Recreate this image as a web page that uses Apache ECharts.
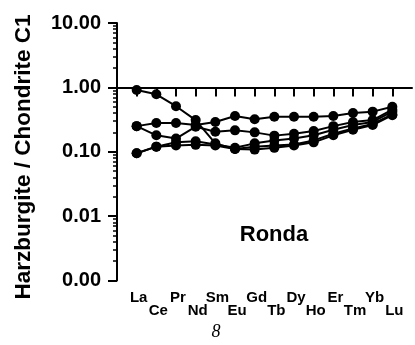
<!DOCTYPE html>
<html>
<head>
<meta charset="utf-8">
<script src="https://cdn.jsdelivr.net/npm/echarts@6/dist/echarts.min.js"></script>
<style>
 html, body { margin: 0; padding: 0; background: #fff; }
 #chart { width: 415px; height: 345px; }
</style>
</head>
<body>
<div id="chart"></div>
<script>
// REE elements, chondrite-normalised harzburgite samples (Ronda)
const elements = ['La', 'Ce', 'Pr', 'Nd', 'Sm', 'Eu', 'Gd', 'Tb', 'Dy', 'Ho', 'Er', 'Tm', 'Yb', 'Lu'];

const sample1 = [0.91, 0.78, 0.51, 0.31, 0.135, 0.11, 0.108, 0.115, 0.125, 0.14, 0.18, 0.22, 0.26, 0.37];
const sample2 = [0.25, 0.28, 0.28, 0.26, 0.29, 0.36, 0.32, 0.35, 0.35, 0.35, 0.36, 0.40, 0.42, 0.50];
const sample3 = [0.25, 0.18, 0.16, 0.245, 0.205, 0.215, 0.20, 0.178, 0.19, 0.21, 0.25, 0.29, 0.31, 0.45];
const sample4 = [0.095, 0.12, 0.125, 0.128, 0.125, 0.11, 0.12, 0.125, 0.13, 0.15, 0.19, 0.23, 0.27, 0.38];
const sample5 = [0.095, 0.12, 0.14, 0.145, 0.13, 0.115, 0.135, 0.15, 0.16, 0.18, 0.22, 0.26, 0.29, 0.42];

const samples = [sample1, sample2, sample3, sample4, sample5];

// minor ticks of the log axis (2..9 in each decade), as exponents
const yMinorExp = [];
for (let e = -3; e < 1; e++) {
 for (let k = 2; k <= 9; k++) yMinorExp.push(e + Math.log10(k));
}

// padded so that La sits one step in from the y axis
const xData = [''].concat(elements, [' ']);

const chart = echarts.init(document.getElementById('chart'), null, { renderer: 'canvas' });

const font = 'Liberation Sans, Arial, sans-serif';

chart.setOption({
 animation: false,
 backgroundColor: '#fff',
 grid: { left: 117, top: 23, bottom: 64.5, right: -8, containLabel: false },
 xAxis: {
  type: 'category',
  data: xData,
  boundaryGap: false,
  axisLine: { lineStyle: { color: '#000', width: 2 } },
  axisTick: {
   length: 9,
   interval: (i) => i > 0 && i < xData.length - 1,
   lineStyle: { color: '#000', width: 2 },
  },
  axisLabel: {
   interval: 0,
   margin: 10,
   formatter: (v, i) => {
    if (!v.trim()) return '';
    return (i % 2 === 1 ? '{hi|' : '{lo|') + v + '}';
   },
   rich: {
    hi: { color: '#000', fontFamily: font, fontWeight: 'bold', fontSize: 15, padding: [0, 0, 0, 4] },
    lo: { color: '#000', fontFamily: font, fontWeight: 'bold', fontSize: 15, padding: [13, 0, 0, 4] },
   },
  },
  splitLine: { show: false },
 },
 yAxis: [
  {
   type: 'log',
   logBase: 10,
   min: 0.001,
   max: 10,
   splitNumber: 4,
   axisLine: { show: true, lineStyle: { color: '#000', width: 2 } },
   axisTick: { show: true, length: 9, lineStyle: { color: '#000', width: 2 } },
   axisLabel: {
    color: '#000',
    fontFamily: font,
    fontWeight: 'bold',
    fontSize: 20,
    margin: 16,
    formatter: (v) => v.toFixed(2),
   },
   splitLine: { show: false },
  },
  {
   // helper axis in exponent space, only draws the minor ticks
   type: 'value',
   min: -3,
   max: 1,
   position: 'left',
   axisLine: { show: false },
   axisTick: { show: true, length: 4, customValues: yMinorExp, lineStyle: { color: '#000', width: 1.5 } },
   axisLabel: { show: false },
   splitLine: { show: false },
  },
 ],
 graphic: [
  {
   type: 'text',
   x: 24, y: 157,
   rotation: Math.PI / 2,
   style: {
    text: 'Harzburgite / Chondrite C1',
    fill: '#000',
    font: 'bold 22.5px ' + font,
    align: 'center',
    verticalAlign: 'middle',
   },
  },
  {
   type: 'text',
   x: 274, y: 235,
   style: {
    text: 'Ronda',
    fill: '#000',
    font: 'bold 22px ' + font,
    align: 'center',
    verticalAlign: 'middle',
   },
  },
  {
   type: 'text',
   x: 216, y: 332,
   style: {
    text: '8',
    fill: '#000',
    font: 'italic 18px Liberation Serif, serif',
    align: 'center',
    verticalAlign: 'middle',
   },
  },
  {
   type: 'text',
   x: 214, y: 2,
   style: {
    text: '8',
    fill: '#000',
    font: 'italic 18px Liberation Serif, serif',
    align: 'center',
    verticalAlign: 'bottom',
   },
  },
 ],
 series: samples.map((vals, s) => ({
  name: 'Sample ' + (s + 1),
  type: 'line',
  data: elements.map((el, i) => [el, vals[i]]),
  symbol: 'circle',
  symbolSize: 10,
  clip: false,
  itemStyle: { color: '#000' },
  lineStyle: { color: '#000', width: 2 },
 })),
});
</script>
</body>
</html>
